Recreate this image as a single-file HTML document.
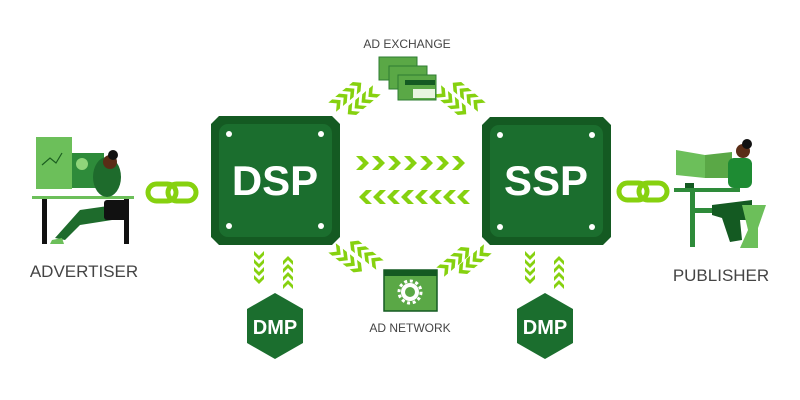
<!DOCTYPE html>
<html><head><meta charset="utf-8"><style>
html,body{margin:0;padding:0;background:#fff;}
svg{display:block;}
text{font-family:"Liberation Sans",sans-serif;}
</style></head><body>
<svg width="800" height="400" viewBox="0 0 800 400" xmlns="http://www.w3.org/2000/svg">
<defs>
<polygon id="c" points="-6,-7 0,-7 7,0 0,7 -6,7 1,0" fill="#86d10f"/>
<polygon id="s" points="-4,-5 0,-5 5,0 0,5 -4,5 1,0" fill="#86d10f"/>
<polygon id="m" points="-5,-6 0,-6 6,0 0,6 -5,6 1,0" fill="#86d10f"/>
<g id="row4"><use href="#s" x="0"/><use href="#s" x="8"/><use href="#s" x="16"/><use href="#s" x="24"/></g>
<g id="rowd"><use href="#m" x="0"/><use href="#m" x="9"/><use href="#m" x="18"/><use href="#m" x="27"/></g>
<g id="row7"><use href="#c" x="0"/><use href="#c" x="16"/><use href="#c" x="32"/><use href="#c" x="48"/><use href="#c" x="64"/><use href="#c" x="80"/><use href="#c" x="96"/></g>
<g id="row8"><use href="#c" x="0"/><use href="#c" x="14"/><use href="#c" x="28"/><use href="#c" x="42"/><use href="#c" x="56"/><use href="#c" x="70"/><use href="#c" x="84"/><use href="#c" x="98"/></g>
</defs>

<polygon points="219,116 332,116 340,124 340,237 332,245 219,245 211,237 211,124" fill="#145a22"/>
<rect x="219" y="124" width="113" height="113" rx="9" fill="#1b6e2e"/>
<circle cx="229" cy="134" r="3" fill="#fff"/><circle cx="321" cy="134" r="3" fill="#fff"/>
<circle cx="229" cy="226" r="3" fill="#fff"/><circle cx="321" cy="226" r="3" fill="#fff"/>
<text x="275" y="195" font-size="42" font-weight="bold" fill="#fff" text-anchor="middle">DSP</text>
<polygon points="490,117 603,117 611,125 611,237 603,245 490,245 482,237 482,125" fill="#145a22"/>
<rect x="490" y="125" width="113" height="112" rx="9" fill="#1b6e2e"/>
<circle cx="500" cy="135" r="3" fill="#fff"/><circle cx="592" cy="135" r="3" fill="#fff"/>
<circle cx="500" cy="227" r="3" fill="#fff"/><circle cx="592" cy="227" r="3" fill="#fff"/>
<text x="546" y="195" font-size="42" font-weight="bold" fill="#fff" text-anchor="middle">SSP</text>

<g transform="translate(362,163)"><use href="#row7"/></g>
<g transform="translate(464,197) rotate(180)"><use href="#row8"/></g>

<g transform="translate(259,255) rotate(90)"><use href="#row4"/></g>
<g transform="translate(288,285) rotate(-90)"><use href="#row4"/></g>
<g transform="translate(530,255) rotate(90)"><use href="#row4"/></g>
<g transform="translate(559,285) rotate(-90)"><use href="#row4"/></g>

<g transform="translate(336,104) rotate(-40)"><use href="#rowd"/></g>
<g transform="translate(373,93) rotate(140)"><use href="#rowd"/></g>
<g transform="translate(478,104) rotate(-140)"><use href="#rowd"/></g>
<g transform="translate(441,93) rotate(40)"><use href="#rowd"/></g>
<g transform="translate(336,251) rotate(38)"><use href="#rowd"/></g>
<g transform="translate(376,262) rotate(-142)"><use href="#rowd"/></g>
<g transform="translate(444,269) rotate(-40)"><use href="#rowd"/></g>
<g transform="translate(484,252) rotate(140)"><use href="#rowd"/></g>

<polygon points="275,293 303,309 303,343 275,359 247,343 247,309" fill="#1b6e2e"/>
<text x="275" y="334" font-size="20" font-weight="bold" fill="#fff" text-anchor="middle">DMP</text>
<polygon points="545,293 573,309 573,343 545,359 517,343 517,309" fill="#1b6e2e"/>
<text x="545" y="334" font-size="20" font-weight="bold" fill="#fff" text-anchor="middle">DMP</text>

<rect x="384" y="270" width="53" height="41" fill="#5aa846" stroke="#145a22" stroke-width="1.5"/>
<rect x="384" y="270" width="53" height="6" fill="#145a22"/>
<circle cx="410" cy="292" r="9" fill="#fff"/>
<circle cx="410" cy="292" r="11" fill="none" stroke="#fff" stroke-width="3" stroke-dasharray="3 2.7"/>
<circle cx="410" cy="292" r="5" fill="#5aa846"/>
<text x="410" y="332" font-size="12" fill="#444" text-anchor="middle">AD NETWORK</text>

<text x="407" y="48" font-size="12" fill="#444" text-anchor="middle">AD EXCHANGE</text>
<rect x="379" y="57" width="38" height="23" fill="#5aa846" stroke="#2e7d32"/>
<rect x="389" y="66" width="38" height="23" fill="#5aa846" stroke="#2e7d32"/>
<rect x="398" y="75" width="38" height="25" fill="#5aa846" stroke="#2e7d32"/>
<rect x="405" y="80" width="30" height="5" fill="#145a22"/>
<rect x="413" y="89" width="22" height="9" fill="#e8f5e0"/>

<rect x="148" y="184" width="28" height="17" rx="8.5" fill="none" stroke="#86d10f" stroke-width="5"/>
<rect x="168" y="184" width="28" height="17" rx="8.5" fill="none" stroke="#86d10f" stroke-width="5"/>
<rect x="619" y="183" width="28" height="17" rx="8.5" fill="none" stroke="#86d10f" stroke-width="5"/>
<rect x="639" y="183" width="28" height="17" rx="8.5" fill="none" stroke="#86d10f" stroke-width="5"/>

<rect x="36" y="137" width="36" height="52" fill="#6cbf5a"/>
<polyline points="42,165 50,158 56,163 62,153" fill="none" stroke="#1b5e20" stroke-width="1.2"/>
<rect x="72" y="153" width="32" height="35" fill="#2e8b3a"/>
<circle cx="82" cy="164" r="6" fill="#8fd57a"/>
<rect x="32" y="196" width="102" height="3" fill="#6cbf5a"/>
<rect x="42" y="199" width="5" height="45" fill="#111"/>
<rect x="124" y="199" width="5" height="45" fill="#111"/>
<ellipse cx="107" cy="177" rx="14" ry="20" fill="#1e6b2c"/>
<circle cx="110" cy="162" r="7" fill="#5a2d16"/>
<circle cx="113" cy="155" r="5" fill="#111"/>
<path d="M80,210 L115,205 L112,220 L80,225 L65,240 L55,238 Z" fill="#1e6b2c"/>
<rect x="104" y="200" width="24" height="20" rx="3" fill="#111"/>
<polygon points="52,240 62,238 64,244 50,244" fill="#6cbf5a"/>
<text x="84" y="277" font-size="17" fill="#444" text-anchor="middle">ADVERTISER</text>

<polygon points="676,150 705,155 705,178 676,175" fill="#6cbf5a"/>
<polygon points="705,155 732,152 732,178 705,178" fill="#5aa846"/>
<rect x="685" y="183" width="9" height="8" fill="#145a22"/>
<rect x="674" y="188" width="66" height="4" fill="#2e8b3a"/>
<rect x="690" y="192" width="5" height="55" fill="#2e8b3a"/>
<rect x="694" y="208" width="28" height="5" fill="#2e8b3a"/>
<rect x="728" y="158" width="24" height="30" rx="6" fill="#1e8b33"/>
<circle cx="743" cy="151" r="7" fill="#5a2d16"/>
<circle cx="747" cy="144" r="5" fill="#111"/>
<path d="M712,205 L752,200 L752,220 L740,220 L742,240 L730,242 L722,218 L712,215 Z" fill="#145a22"/>
<polygon points="742,205 766,205 758,228 758,248 740,248 748,230" fill="#6cbf5a"/>
<text x="721" y="281" font-size="17" fill="#444" text-anchor="middle">PUBLISHER</text>
</svg>
</body></html>
